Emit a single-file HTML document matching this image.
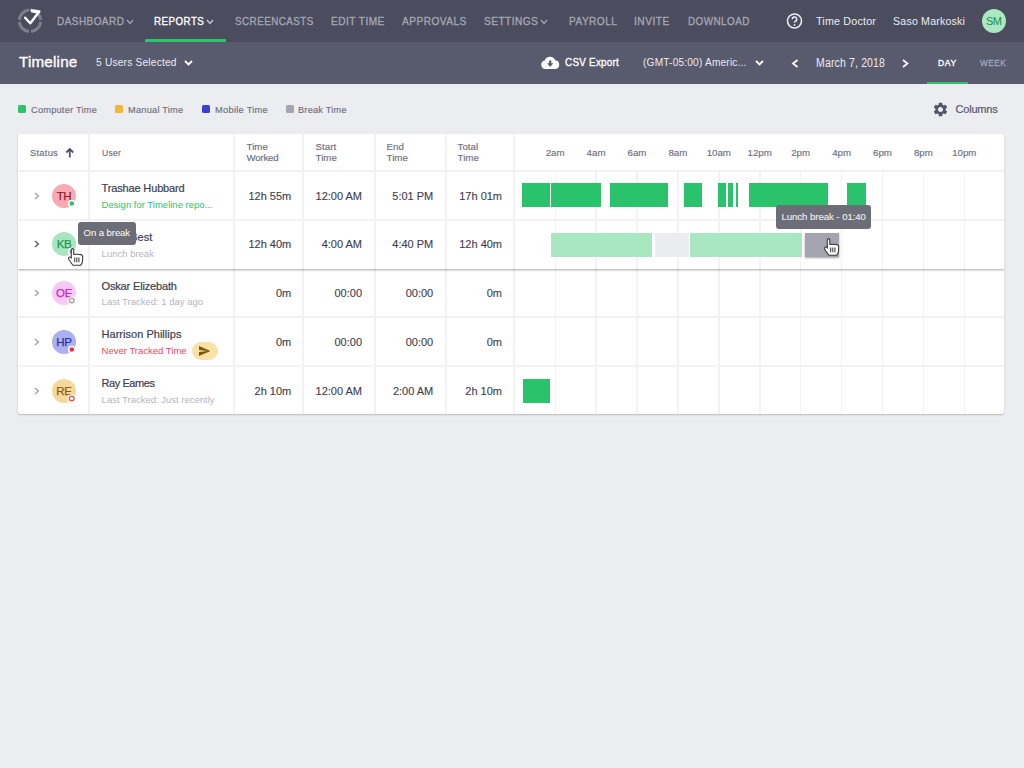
<!DOCTYPE html>
<html><head><meta charset="utf-8"><style>
html,body{margin:0;padding:0;width:1024px;height:768px;overflow:hidden;background:#ecedf1;font-family:"Liberation Sans", sans-serif;position:relative}
.t{position:absolute;white-space:nowrap}
.a{position:absolute}
</style></head><body>
<div class="a" style="left:0;top:0;width:1024px;height:42px;background:#4b4c5e"></div>
<div class="a" style="left:0;top:42px;width:1024px;height:42px;background:#585a6d"></div>
<svg class="a" style="left:0;top:0" width="60" height="42" viewBox="0 0 60 42">
<g fill="none" stroke="#7e7f8d" stroke-width="3">
<path d="M19.3 19.8 A10.7 10.7 0 0 1 29 10.1"/>
<path d="M38.65 14.5 A10.7 10.7 0 0 1 40.7 19.8"/>
<path d="M40.7 21.8 A10.7 10.7 0 0 1 31 31.5"/>
<path d="M29 31.5 A10.7 10.7 0 0 1 19.3 21.8"/>
</g>
<path d="M25.1 17.7 L30.3 23.3 L39.2 11.7" fill="none" stroke="#ffffff" stroke-width="2.4" stroke-linejoin="round" stroke-linecap="round"/>
<path d="M30.7 9.2 L37.8 10.2 L40.3 10.9 L38.4 13.3 L35.2 12.9 L31.1 12.0 Z" fill="#ffffff" stroke="#ffffff" stroke-width="0.5" stroke-linejoin="round"/>
</svg>
<svg class="a" style="left:125px;top:17.5px" width="10" height="7.5"><path d="M2 2 L5.0 5.5 L8 2" fill="none" stroke="#a5a6b3" stroke-width="1.3"/></svg>
<svg class="a" style="left:205px;top:17.5px" width="10" height="7.5"><path d="M2 2 L5.0 5.5 L8 2" fill="none" stroke="#c9cad3" stroke-width="1.3"/></svg>
<svg class="a" style="left:539px;top:17.5px" width="10" height="7.5"><path d="M2 2 L5.0 5.5 L8 2" fill="none" stroke="#a5a6b3" stroke-width="1.3"/></svg>
<div class="a" style="left:145px;top:39px;width:81px;height:3px;background:#2bc46c"></div>
<svg class="a" style="left:785px;top:11px" width="20" height="20" viewBox="0 0 20 20"><circle cx="9.5" cy="10" r="7" fill="none" stroke="#ececf1" stroke-width="1.6"/><path d="M7.3 8.3 A2.2 2.2 0 1 1 10.3 10.3 Q9.5 10.8 9.5 11.8" fill="none" stroke="#ececf1" stroke-width="1.5"/><circle cx="9.5" cy="13.9" r="0.9" fill="#ececf1"/></svg>
<div class="a" style="left:982px;top:9px;width:24px;height:24px;border-radius:50%;background:#a9e8c1"></div>
<svg class="a" style="left:182.5px;top:58.8px" width="11.0" height="7.5"><path d="M2 2 L5.5 5.5 L9.0 2" fill="none" stroke="#ffffff" stroke-width="1.8"/></svg>
<svg class="a" style="left:540px;top:55px" width="22" height="16" viewBox="0 0 22 16"><path d="M5.3 13.9 A4.3 4.3 0 0 1 4.7 5.4 A5.7 5.7 0 0 1 15.3 5.2 A4.4 4.4 0 0 1 15.6 13.9 Z" fill="#ffffff"/><path d="M9.1 5.6 H11.3 V8.2 H13.3 L10.2 12 L7.1 8.2 H9.1 Z" fill="#585a6d"/></svg>
<svg class="a" style="left:753.5px;top:58.8px" width="11.0" height="7.5"><path d="M2 2 L5.5 5.5 L9.0 2" fill="none" stroke="#ffffff" stroke-width="1.8"/></svg>
<svg class="a" style="left:791px;top:57.5px" width="8.5" height="11.0"><path d="M6.5 2 L2 5.5 L6.5 9.0" fill="none" stroke="#ffffff" stroke-width="1.7"/></svg>
<svg class="a" style="left:900.5px;top:57.5px" width="8.5" height="11.0"><path d="M2 2 L6.5 5.5 L2 9.0" fill="none" stroke="#ffffff" stroke-width="1.7"/></svg>
<div class="a" style="left:926.5px;top:82px;width:41.8px;height:2px;background:#2bc46c"></div>
<div class="a" style="left:18px;top:105px;width:8px;height:8px;border-radius:1.5px;background:#2bc46c"></div>
<div class="a" style="left:115px;top:105px;width:8px;height:8px;border-radius:1.5px;background:#f6b635"></div>
<div class="a" style="left:202px;top:105px;width:8px;height:8px;border-radius:1.5px;background:#3b40d2"></div>
<div class="a" style="left:286px;top:105px;width:8px;height:8px;border-radius:1.5px;background:#a4a5af"></div>
<svg class="a" style="left:932px;top:101px" width="17" height="17" viewBox="0 0 24 24"><path fill="#54556a" d="M19.14 12.94c.04-.3.06-.61.06-.94 0-.32-.02-.64-.07-.94l2.03-1.580a.49.49 0 0 0 .12-.61l-1.92-3.32a.488.488 0 0 0-.59-.22l-2.39.96c-.5-.38-1.03-.7-1.62-.94l-.36-2.54a.484.484 0 0 0-.48-.41h-3.84c-.24 0-.43.170-.47.41l-.36 2.54c-.59.24-1.13.57-1.62.94l-2.39-.96c-.22-.08-.47 0-.59.22L2.74 8.87c-.12.21-.08.47.12.61l2.03 1.58c-.05.3-.09.63-.09.94s.02.64.07.94l-2.03 1.58a.49.49 0 0 0-.12.61l1.92 3.32c.12.22.37.29.59.22l2.39-.96c.5.38 1.03.7 1.62.94l.36 2.54c.05.24.24.41.48.41h3.84c.24 0 .44-.17.47-.41l.36-2.54c.59-.24 1.13-.56 1.62-.94l2.39.96c.22.08.47 0 .59-.22l1.92-3.32c.12-.22.07-.47-.12-.61l-2.010-1.58zM12 15.6c-1.98 0-3.6-1.62-3.6-3.6s1.62-3.6 3.6-3.6 3.6 1.62 3.6 3.6-1.62 3.6-3.6 3.6z"/></svg>
<div class="a" style="left:18px;top:134px;width:986px;height:280px;background:#fff;border-radius:3px;box-shadow:0 1px 2px rgba(0,0,0,0.22)"></div>
<div class="a" style="left:18px;top:170px;width:986px;height:2px;background:#f2f2f5"></div>
<div class="a" style="left:18px;top:219.2px;width:986px;height:2px;background:#f2f2f5"></div>
<div class="a" style="left:18px;top:316.3px;width:986px;height:2px;background:#f2f2f5"></div>
<div class="a" style="left:18px;top:365.2px;width:986px;height:2px;background:#f2f2f5"></div>
<div class="a" style="left:88px;top:134px;width:2px;height:280px;background:#f2f2f5"></div>
<div class="a" style="left:233.2px;top:134px;width:2px;height:280px;background:#f2f2f5"></div>
<div class="a" style="left:302.3px;top:134px;width:2px;height:280px;background:#f2f2f5"></div>
<div class="a" style="left:373.5px;top:134px;width:2px;height:280px;background:#f2f2f5"></div>
<div class="a" style="left:444.6px;top:134px;width:2px;height:280px;background:#f2f2f5"></div>
<div class="a" style="left:513.2px;top:134px;width:2px;height:280px;background:#f2f2f5"></div>
<div class="a" style="left:554.52px;top:171px;width:1.4px;height:243px;background:#f2f2f5"></div>
<div class="a" style="left:595.44px;top:171px;width:1.4px;height:243px;background:#f2f2f5"></div>
<div class="a" style="left:636.36px;top:171px;width:1.4px;height:243px;background:#f2f2f5"></div>
<div class="a" style="left:677.28px;top:171px;width:1.4px;height:243px;background:#f2f2f5"></div>
<div class="a" style="left:718.20px;top:171px;width:1.4px;height:243px;background:#f2f2f5"></div>
<div class="a" style="left:759.12px;top:171px;width:1.4px;height:243px;background:#f2f2f5"></div>
<div class="a" style="left:800.04px;top:171px;width:1.4px;height:243px;background:#f2f2f5"></div>
<div class="a" style="left:840.96px;top:171px;width:1.4px;height:243px;background:#f2f2f5"></div>
<div class="a" style="left:881.88px;top:171px;width:1.4px;height:243px;background:#f2f2f5"></div>
<div class="a" style="left:922.80px;top:171px;width:1.4px;height:243px;background:#f2f2f5"></div>
<div class="a" style="left:963.72px;top:171px;width:1.4px;height:243px;background:#f2f2f5"></div>
<div class="a" style="left:18px;top:221px;width:986px;height:48px;background:#fff;box-shadow:0 1px 2px rgba(0,0,0,0.35);clip-path:inset(0 0 -4px 0)"></div>
<div class="a" style="left:88px;top:221px;width:2px;height:48px;background:#f2f2f5"></div>
<div class="a" style="left:233.2px;top:221px;width:2px;height:48px;background:#f2f2f5"></div>
<div class="a" style="left:302.3px;top:221px;width:2px;height:48px;background:#f2f2f5"></div>
<div class="a" style="left:373.5px;top:221px;width:2px;height:48px;background:#f2f2f5"></div>
<div class="a" style="left:444.6px;top:221px;width:2px;height:48px;background:#f2f2f5"></div>
<div class="a" style="left:513.2px;top:221px;width:2px;height:48px;background:#f2f2f5"></div>
<div class="a" style="left:554.52px;top:221px;width:1.4px;height:48px;background:#f2f2f5"></div>
<div class="a" style="left:595.44px;top:221px;width:1.4px;height:48px;background:#f2f2f5"></div>
<div class="a" style="left:636.36px;top:221px;width:1.4px;height:48px;background:#f2f2f5"></div>
<div class="a" style="left:677.28px;top:221px;width:1.4px;height:48px;background:#f2f2f5"></div>
<div class="a" style="left:718.20px;top:221px;width:1.4px;height:48px;background:#f2f2f5"></div>
<div class="a" style="left:759.12px;top:221px;width:1.4px;height:48px;background:#f2f2f5"></div>
<div class="a" style="left:800.04px;top:221px;width:1.4px;height:48px;background:#f2f2f5"></div>
<div class="a" style="left:840.96px;top:221px;width:1.4px;height:48px;background:#f2f2f5"></div>
<div class="a" style="left:881.88px;top:221px;width:1.4px;height:48px;background:#f2f2f5"></div>
<div class="a" style="left:922.80px;top:221px;width:1.4px;height:48px;background:#f2f2f5"></div>
<div class="a" style="left:963.72px;top:221px;width:1.4px;height:48px;background:#f2f2f5"></div>
<svg class="a" style="left:64px;top:147px" width="12" height="12" viewBox="0 0 12 12"><path d="M5.8 2 V10.5 M2.3 5.5 L5.8 2 L9.3 5.5" fill="none" stroke="#50516a" stroke-width="1.8"/></svg>
<svg class="a" style="left:32.8px;top:190.7px" width="7.400000000000006" height="10.0"><path d="M2 2 L5.400000000000006 5.0 L2 8.0" fill="none" stroke="#a4a5b1" stroke-width="1.4"/></svg>
<div class="a" style="left:52px;top:183.70px;width:24px;height:24px;border-radius:50%;background:#f8aab4;color:#8e1c30;font-size:11.5px;line-height:24px;text-align:center;letter-spacing:-0.3px;-webkit-text-stroke:0.25px #8e1c30">TH</div>
<svg class="a" style="left:32.8px;top:239.4px" width="7.400000000000006" height="10.0"><path d="M2 2 L5.400000000000006 5.0 L2 8.0" fill="none" stroke="#5a5b70" stroke-width="1.4"/></svg>
<div class="a" style="left:52px;top:232.40px;width:24px;height:24px;border-radius:50%;background:#a9e6bf;color:#22964f;font-size:11.5px;line-height:24px;text-align:center;letter-spacing:-0.3px;-webkit-text-stroke:0.25px #22964f">KB</div>
<svg class="a" style="left:32.8px;top:288.0px" width="7.400000000000006" height="10.0"><path d="M2 2 L5.400000000000006 5.0 L2 8.0" fill="none" stroke="#a4a5b1" stroke-width="1.4"/></svg>
<div class="a" style="left:52px;top:281.00px;width:24px;height:24px;border-radius:50%;background:#f9c9f6;color:#c427c4;font-size:11.5px;line-height:24px;text-align:center;letter-spacing:-0.3px;-webkit-text-stroke:0.25px #c427c4">OE</div>
<svg class="a" style="left:32.8px;top:336.5px" width="7.400000000000006" height="10.0"><path d="M2 2 L5.400000000000006 5.0 L2 8.0" fill="none" stroke="#a4a5b1" stroke-width="1.4"/></svg>
<div class="a" style="left:52px;top:329.50px;width:24px;height:24px;border-radius:50%;background:#aab0f0;color:#2b309e;font-size:11.5px;line-height:24px;text-align:center;letter-spacing:-0.3px;-webkit-text-stroke:0.25px #2b309e">HP</div>
<svg class="a" style="left:32.8px;top:385.5px" width="7.400000000000006" height="10.0"><path d="M2 2 L5.400000000000006 5.0 L2 8.0" fill="none" stroke="#a4a5b1" stroke-width="1.4"/></svg>
<div class="a" style="left:52px;top:378.50px;width:24px;height:24px;border-radius:50%;background:#f6d89c;color:#8c5c12;font-size:11.5px;line-height:24px;text-align:center;letter-spacing:-0.3px;-webkit-text-stroke:0.25px #8c5c12">RE</div>
<svg class="a" style="left:62px;top:193.70px" width="20" height="20" viewBox="0 0 20 20"><circle cx="9.8" cy="9.5" r="3.1" fill="#2cc46c" stroke="#fff" stroke-width="1.5"/></svg>
<svg class="a" style="left:62px;top:242.40px" width="20" height="20" viewBox="0 0 20 20"><circle cx="9.8" cy="9.5" r="3.1" fill="#9a9bab" stroke="#fff" stroke-width="1.5"/></svg>
<svg class="a" style="left:62px;top:291.00px" width="20" height="20" viewBox="0 0 20 20"><circle cx="9.7" cy="9.45" r="4.3" fill="#fff"/><circle cx="9.7" cy="9.45" r="2.35" fill="#fff" stroke="#a3a4ae" stroke-width="1.4"/></svg>
<svg class="a" style="left:62px;top:339.50px" width="20" height="20" viewBox="0 0 20 20"><circle cx="9.8" cy="9.5" r="3.1" fill="#ec2f45" stroke="#fff" stroke-width="1.5"/></svg>
<svg class="a" style="left:62px;top:388.50px" width="20" height="20" viewBox="0 0 20 20"><circle cx="9.7" cy="9.45" r="4.3" fill="#fff"/><circle cx="9.7" cy="9.45" r="2.35" fill="#fff" stroke="#e9553f" stroke-width="1.4"/></svg>
<div class="a" style="left:192.4px;top:341.8px;width:25.4px;height:17.9px;border-radius:9px;background:#fae2a6"></div>
<svg class="a" style="left:199px;top:345.8px" width="11.4" height="10" viewBox="2 3 21 18" preserveAspectRatio="none"><path d="M2.01 21L23 12 2.01 3 2 10l15 2-15 2z" fill="#7d5c05"/></svg>
<div class="a" style="left:522.00px;top:183px;width:27.50px;height:24px;background:#2ac26b;"></div>
<div class="a" style="left:550.50px;top:183px;width:50.00px;height:24px;background:#2ac26b;"></div>
<div class="a" style="left:609.50px;top:183px;width:58.50px;height:24px;background:#2ac26b;"></div>
<div class="a" style="left:683.50px;top:183px;width:18.50px;height:24px;background:#2ac26b;"></div>
<div class="a" style="left:718.00px;top:183px;width:7.50px;height:24px;background:#2ac26b;"></div>
<div class="a" style="left:727.50px;top:183px;width:5.50px;height:24px;background:#2ac26b;"></div>
<div class="a" style="left:735.50px;top:183px;width:2.50px;height:24px;background:#2ac26b;"></div>
<div class="a" style="left:748.50px;top:183px;width:79.50px;height:24px;background:#2ac26b;"></div>
<div class="a" style="left:847.00px;top:183px;width:19.00px;height:24px;background:#2ac26b;"></div>
<div class="a" style="left:551.00px;top:233px;width:101.00px;height:24px;background:#a9e6c2;"></div>
<div class="a" style="left:654.50px;top:233px;width:34.50px;height:24px;background:#ebecf0;"></div>
<div class="a" style="left:690.00px;top:233px;width:112.00px;height:24px;background:#a9e6c2;"></div>
<div class="a" style="left:804.60px;top:233px;width:34.70px;height:24px;background:#a3a4af;box-shadow:0 1px 2px rgba(0,0,0,0.35)"></div>
<div class="a" style="left:523.00px;top:379px;width:27.00px;height:24px;background:#2ac26b;"></div>
<div class="t" style="left:56.56px;top:15.69px;font-size:11px;line-height:11px;font-weight:normal;-webkit-text-stroke:0.35px #a5a6b3;color:#a5a6b3;letter-spacing:0.500px;transform:scaleX(0.9065);transform-origin:0.44px 0">DASHBOARD</div>
<div class="t" style="left:154.06px;top:15.69px;font-size:11px;line-height:11px;font-weight:normal;-webkit-text-stroke:0.35px #ffffff;color:#ffffff;letter-spacing:0.500px;transform:scaleX(0.8892);transform-origin:0.44px 0">REPORTS</div>
<div class="t" style="left:234.56px;top:15.69px;font-size:11px;line-height:11px;font-weight:normal;-webkit-text-stroke:0.35px #a5a6b3;color:#a5a6b3;letter-spacing:0.500px;transform:scaleX(0.8944);transform-origin:0.44px 0">SCREENCASTS</div>
<div class="t" style="left:330.56px;top:15.69px;font-size:11px;line-height:11px;font-weight:normal;-webkit-text-stroke:0.35px #a5a6b3;color:#a5a6b3;letter-spacing:0.500px;transform:scaleX(0.9191);transform-origin:0.44px 0">EDIT TIME</div>
<div class="t" style="left:401.56px;top:15.69px;font-size:11px;line-height:11px;font-weight:normal;-webkit-text-stroke:0.35px #a5a6b3;color:#a5a6b3;letter-spacing:0.500px;transform:scaleX(0.9210);transform-origin:0.44px 0">APPROVALS</div>
<div class="t" style="left:483.56px;top:15.69px;font-size:11px;line-height:11px;font-weight:normal;-webkit-text-stroke:0.35px #a5a6b3;color:#a5a6b3;letter-spacing:0.500px;transform:scaleX(0.9196);transform-origin:0.44px 0">SETTINGS</div>
<div class="t" style="left:568.56px;top:15.69px;font-size:11px;line-height:11px;font-weight:normal;-webkit-text-stroke:0.35px #a5a6b3;color:#a5a6b3;letter-spacing:0.500px;transform:scaleX(0.9172);transform-origin:0.44px 0">PAYROLL</div>
<div class="t" style="left:634.06px;top:15.69px;font-size:11px;line-height:11px;font-weight:normal;-webkit-text-stroke:0.35px #a5a6b3;color:#a5a6b3;letter-spacing:0.500px;transform:scaleX(0.9306);transform-origin:0.44px 0">INVITE</div>
<div class="t" style="left:687.56px;top:15.69px;font-size:11px;line-height:11px;font-weight:normal;-webkit-text-stroke:0.35px #a5a6b3;color:#a5a6b3;letter-spacing:0.500px;transform:scaleX(0.8976);transform-origin:0.44px 0">DOWNLOAD</div>
<div class="t" style="left:815.54px;top:16.07px;font-size:11.5px;line-height:11.5px;font-weight:normal;color:#ececf1;letter-spacing:0.200px;transform:scaleX(0.9323);transform-origin:0.46px 0">Time Doctor</div>
<div class="t" style="left:892.54px;top:16.07px;font-size:11.5px;line-height:11.5px;font-weight:normal;color:#ececf1;letter-spacing:0.200px;transform:scaleX(0.9233);transform-origin:0.46px 0">Saso Markoski</div>
<div class="t" style="left:986.06px;top:15.69px;font-size:11px;line-height:11px;font-weight:normal;color:#1f8c4c;letter-spacing:-0.620px">SM</div>
<div class="t" style="left:18.98px;top:54.38px;font-size:15.5px;line-height:15.5px;font-weight:normal;-webkit-text-stroke:0.35px #ffffff;color:#ffffff;letter-spacing:0.200px;transform:scaleX(0.9801);transform-origin:0.62px 0">Timeline</div>
<div class="t" style="left:95.54px;top:57.27px;font-size:11.5px;line-height:11.5px;font-weight:normal;color:#ececf1;letter-spacing:0.200px;transform:scaleX(0.8878);transform-origin:0.46px 0">5 Users Selected</div>
<div class="t" style="left:564.94px;top:57.27px;font-size:11.5px;line-height:11.5px;font-weight:normal;-webkit-text-stroke:0.35px #ffffff;color:#ffffff;letter-spacing:0.300px;transform:scaleX(0.8568);transform-origin:0.46px 0">CSV Export</div>
<div class="t" style="left:643.04px;top:57.27px;font-size:11.5px;line-height:11.5px;font-weight:normal;color:#ececf1;letter-spacing:0.200px;transform:scaleX(0.8822);transform-origin:0.46px 0">(GMT-05:00) Americ...</div>
<div class="t" style="left:815.72px;top:56.64px;font-size:12px;line-height:12px;font-weight:normal;color:#ececf1;letter-spacing:0.200px;transform:scaleX(0.8700);transform-origin:0.48px 0">March 7, 2018</div>
<div class="t" style="left:938.03px;top:58.51px;font-size:9.2px;line-height:9.2px;font-weight:normal;-webkit-text-stroke:0.35px #ffffff;color:#ffffff;letter-spacing:0.600px;transform:scaleX(0.9313);transform-origin:0.37px 0">DAY</div>
<div class="t" style="left:980.23px;top:58.51px;font-size:9.2px;line-height:9.2px;font-weight:normal;-webkit-text-stroke:0.35px #a5a6b3;color:#a5a6b3;letter-spacing:0.600px;transform:scaleX(0.8888);transform-origin:0.37px 0">WEEK</div>
<div class="t" style="left:31.22px;top:104.77px;font-size:9.6px;line-height:9.6px;font-weight:normal;-webkit-text-stroke:0.15px #6d6e7f;color:#6d6e7f;letter-spacing:0.250px;transform:scaleX(0.9586);transform-origin:0.38px 0">Computer Time</div>
<div class="t" style="left:128.22px;top:104.77px;font-size:9.6px;line-height:9.6px;font-weight:normal;-webkit-text-stroke:0.15px #6d6e7f;color:#6d6e7f;letter-spacing:0.250px;transform:scaleX(0.9602);transform-origin:0.38px 0">Manual Time</div>
<div class="t" style="left:214.62px;top:104.77px;font-size:9.6px;line-height:9.6px;font-weight:normal;-webkit-text-stroke:0.15px #6d6e7f;color:#6d6e7f;letter-spacing:0.250px;transform:scaleX(0.9729);transform-origin:0.38px 0">Mobile Time</div>
<div class="t" style="left:298.42px;top:104.77px;font-size:9.6px;line-height:9.6px;font-weight:normal;-webkit-text-stroke:0.15px #6d6e7f;color:#6d6e7f;letter-spacing:0.250px;transform:scaleX(0.9557);transform-origin:0.38px 0">Break Time</div>
<div class="t" style="left:955.56px;top:103.99px;font-size:11px;line-height:11px;font-weight:normal;-webkit-text-stroke:0.2px #56576c;color:#56576c;letter-spacing:-0.204px">Columns</div>
<div class="t" style="left:29.62px;top:148.36px;font-size:9.5px;line-height:9.5px;font-weight:normal;-webkit-text-stroke:0.15px #6d6e7f;color:#6d6e7f;letter-spacing:0.250px;transform:scaleX(0.9844);transform-origin:0.38px 0">Status</div>
<div class="t" style="left:101.62px;top:148.36px;font-size:9.5px;line-height:9.5px;font-weight:normal;-webkit-text-stroke:0.15px #6d6e7f;color:#6d6e7f;letter-spacing:0.250px;transform:scaleX(0.9076);transform-origin:0.38px 0">User</div>
<div class="t" style="left:246.61px;top:141.69px;font-size:9.7px;line-height:9.7px;font-weight:normal;-webkit-text-stroke:0.15px #6d6e7f;color:#6d6e7f;letter-spacing:0.000px">Time</div>
<div class="t" style="left:246.61px;top:153.29px;font-size:9.7px;line-height:9.7px;font-weight:normal;-webkit-text-stroke:0.15px #6d6e7f;color:#6d6e7f;letter-spacing:-0.245px">Worked</div>
<div class="t" style="left:315.61px;top:141.69px;font-size:9.7px;line-height:9.7px;font-weight:normal;-webkit-text-stroke:0.15px #6d6e7f;color:#6d6e7f;letter-spacing:0.000px">Start</div>
<div class="t" style="left:315.61px;top:153.29px;font-size:9.7px;line-height:9.7px;font-weight:normal;-webkit-text-stroke:0.15px #6d6e7f;color:#6d6e7f;letter-spacing:0.000px">Time</div>
<div class="t" style="left:386.61px;top:141.69px;font-size:9.7px;line-height:9.7px;font-weight:normal;-webkit-text-stroke:0.15px #6d6e7f;color:#6d6e7f;letter-spacing:0.000px">End</div>
<div class="t" style="left:386.61px;top:153.29px;font-size:9.7px;line-height:9.7px;font-weight:normal;-webkit-text-stroke:0.15px #6d6e7f;color:#6d6e7f;letter-spacing:0.000px">Time</div>
<div class="t" style="left:457.61px;top:141.69px;font-size:9.7px;line-height:9.7px;font-weight:normal;-webkit-text-stroke:0.15px #6d6e7f;color:#6d6e7f;letter-spacing:0.000px">Total</div>
<div class="t" style="left:457.61px;top:153.29px;font-size:9.7px;line-height:9.7px;font-weight:normal;-webkit-text-stroke:0.15px #6d6e7f;color:#6d6e7f;letter-spacing:0.000px">Time</div>
<div class="t" style="left:545.69px;top:147.99px;font-size:9.7px;line-height:9.7px;font-weight:normal;-webkit-text-stroke:0.15px #6d6e7f;color:#6d6e7f;letter-spacing:0.000px">2am</div>
<div class="t" style="left:586.61px;top:147.99px;font-size:9.7px;line-height:9.7px;font-weight:normal;-webkit-text-stroke:0.15px #6d6e7f;color:#6d6e7f;letter-spacing:0.000px">4am</div>
<div class="t" style="left:627.53px;top:147.99px;font-size:9.7px;line-height:9.7px;font-weight:normal;-webkit-text-stroke:0.15px #6d6e7f;color:#6d6e7f;letter-spacing:0.000px">6am</div>
<div class="t" style="left:668.45px;top:147.99px;font-size:9.7px;line-height:9.7px;font-weight:normal;-webkit-text-stroke:0.15px #6d6e7f;color:#6d6e7f;letter-spacing:0.000px">8am</div>
<div class="t" style="left:706.68px;top:147.99px;font-size:9.7px;line-height:9.7px;font-weight:normal;-webkit-text-stroke:0.15px #6d6e7f;color:#6d6e7f;letter-spacing:0.000px">10am</div>
<div class="t" style="left:747.60px;top:147.99px;font-size:9.7px;line-height:9.7px;font-weight:normal;-webkit-text-stroke:0.15px #6d6e7f;color:#6d6e7f;letter-spacing:0.000px">12pm</div>
<div class="t" style="left:791.21px;top:147.99px;font-size:9.7px;line-height:9.7px;font-weight:normal;-webkit-text-stroke:0.15px #6d6e7f;color:#6d6e7f;letter-spacing:0.000px">2pm</div>
<div class="t" style="left:832.13px;top:147.99px;font-size:9.7px;line-height:9.7px;font-weight:normal;-webkit-text-stroke:0.15px #6d6e7f;color:#6d6e7f;letter-spacing:0.000px">4pm</div>
<div class="t" style="left:873.05px;top:147.99px;font-size:9.7px;line-height:9.7px;font-weight:normal;-webkit-text-stroke:0.15px #6d6e7f;color:#6d6e7f;letter-spacing:0.000px">6pm</div>
<div class="t" style="left:913.97px;top:147.99px;font-size:9.7px;line-height:9.7px;font-weight:normal;-webkit-text-stroke:0.15px #6d6e7f;color:#6d6e7f;letter-spacing:0.000px">8pm</div>
<div class="t" style="left:952.20px;top:147.99px;font-size:9.7px;line-height:9.7px;font-weight:normal;-webkit-text-stroke:0.15px #6d6e7f;color:#6d6e7f;letter-spacing:0.000px">10pm</div>
<div class="t" style="left:101.56px;top:183.29px;font-size:11px;line-height:11px;font-weight:normal;-webkit-text-stroke:0.2px #3d3e4f;color:#3d3e4f;letter-spacing:-0.148px">Trashae Hubbard</div>
<div class="t" style="left:101.62px;top:199.86px;font-size:9.5px;line-height:9.5px;font-weight:normal;color:#2fc46e;letter-spacing:0.000px">Design for Timeline repo...</div>
<div class="t" style="left:248.43px;top:190.79px;font-size:11px;line-height:11px;font-weight:normal;-webkit-text-stroke:0.12px #3d3e4f;color:#3d3e4f;letter-spacing:0.000px">12h 55m</div>
<div class="t" style="left:315.56px;top:190.79px;font-size:11px;line-height:11px;font-weight:normal;-webkit-text-stroke:0.12px #3d3e4f;color:#3d3e4f;letter-spacing:0.000px">12:00 AM</div>
<div class="t" style="left:392.27px;top:190.79px;font-size:11px;line-height:11px;font-weight:normal;-webkit-text-stroke:0.12px #3d3e4f;color:#3d3e4f;letter-spacing:0.000px">5:01 PM</div>
<div class="t" style="left:459.23px;top:190.79px;font-size:11px;line-height:11px;font-weight:normal;-webkit-text-stroke:0.12px #3d3e4f;color:#3d3e4f;letter-spacing:0.000px">17h 01m</div>
<div class="t" style="left:101.56px;top:231.99px;font-size:11px;line-height:11px;font-weight:normal;-webkit-text-stroke:0.2px #3d3e4f;color:#3d3e4f;letter-spacing:0.000px">Kiara Best</div>
<div class="t" style="left:101.62px;top:248.56px;font-size:9.5px;line-height:9.5px;font-weight:normal;color:#b4b5c1;letter-spacing:0.000px">Lunch break</div>
<div class="t" style="left:248.43px;top:239.49px;font-size:11px;line-height:11px;font-weight:normal;-webkit-text-stroke:0.12px #3d3e4f;color:#3d3e4f;letter-spacing:0.000px">12h 40m</div>
<div class="t" style="left:321.68px;top:239.49px;font-size:11px;line-height:11px;font-weight:normal;-webkit-text-stroke:0.12px #3d3e4f;color:#3d3e4f;letter-spacing:0.000px">4:00 AM</div>
<div class="t" style="left:392.27px;top:239.49px;font-size:11px;line-height:11px;font-weight:normal;-webkit-text-stroke:0.12px #3d3e4f;color:#3d3e4f;letter-spacing:0.000px">4:40 PM</div>
<div class="t" style="left:459.23px;top:239.49px;font-size:11px;line-height:11px;font-weight:normal;-webkit-text-stroke:0.12px #3d3e4f;color:#3d3e4f;letter-spacing:0.000px">12h 40m</div>
<div class="t" style="left:101.56px;top:280.59px;font-size:11px;line-height:11px;font-weight:normal;-webkit-text-stroke:0.2px #3d3e4f;color:#3d3e4f;letter-spacing:-0.163px">Oskar Elizebath</div>
<div class="t" style="left:101.62px;top:297.16px;font-size:9.5px;line-height:9.5px;font-weight:normal;color:#b4b5c1;letter-spacing:0.000px">Last Tracked: 1 day ago</div>
<div class="t" style="left:275.96px;top:288.09px;font-size:11px;line-height:11px;font-weight:normal;-webkit-text-stroke:0.12px #3d3e4f;color:#3d3e4f;letter-spacing:0.000px">0m</div>
<div class="t" style="left:334.51px;top:288.09px;font-size:11px;line-height:11px;font-weight:normal;-webkit-text-stroke:0.12px #3d3e4f;color:#3d3e4f;letter-spacing:0.000px">00:00</div>
<div class="t" style="left:405.71px;top:288.09px;font-size:11px;line-height:11px;font-weight:normal;-webkit-text-stroke:0.12px #3d3e4f;color:#3d3e4f;letter-spacing:0.000px">00:00</div>
<div class="t" style="left:486.76px;top:288.09px;font-size:11px;line-height:11px;font-weight:normal;-webkit-text-stroke:0.12px #3d3e4f;color:#3d3e4f;letter-spacing:0.000px">0m</div>
<div class="t" style="left:101.56px;top:329.09px;font-size:11px;line-height:11px;font-weight:normal;-webkit-text-stroke:0.2px #3d3e4f;color:#3d3e4f;letter-spacing:0.025px">Harrison Phillips</div>
<div class="t" style="left:101.62px;top:345.66px;font-size:9.5px;line-height:9.5px;font-weight:normal;color:#ec4a5c;letter-spacing:0.000px">Never Tracked Time</div>
<div class="t" style="left:275.96px;top:336.59px;font-size:11px;line-height:11px;font-weight:normal;-webkit-text-stroke:0.12px #3d3e4f;color:#3d3e4f;letter-spacing:0.000px">0m</div>
<div class="t" style="left:334.51px;top:336.59px;font-size:11px;line-height:11px;font-weight:normal;-webkit-text-stroke:0.12px #3d3e4f;color:#3d3e4f;letter-spacing:0.000px">00:00</div>
<div class="t" style="left:405.71px;top:336.59px;font-size:11px;line-height:11px;font-weight:normal;-webkit-text-stroke:0.12px #3d3e4f;color:#3d3e4f;letter-spacing:0.000px">00:00</div>
<div class="t" style="left:486.76px;top:336.59px;font-size:11px;line-height:11px;font-weight:normal;-webkit-text-stroke:0.12px #3d3e4f;color:#3d3e4f;letter-spacing:0.000px">0m</div>
<div class="t" style="left:101.56px;top:378.09px;font-size:11px;line-height:11px;font-weight:normal;-webkit-text-stroke:0.2px #3d3e4f;color:#3d3e4f;letter-spacing:-0.435px">Ray Eames</div>
<div class="t" style="left:101.62px;top:394.66px;font-size:9.5px;line-height:9.5px;font-weight:normal;color:#b4b5c1;letter-spacing:0.000px">Last Tracked: Just recently</div>
<div class="t" style="left:254.54px;top:385.59px;font-size:11px;line-height:11px;font-weight:normal;-webkit-text-stroke:0.12px #3d3e4f;color:#3d3e4f;letter-spacing:0.000px">2h 10m</div>
<div class="t" style="left:315.56px;top:385.59px;font-size:11px;line-height:11px;font-weight:normal;-webkit-text-stroke:0.12px #3d3e4f;color:#3d3e4f;letter-spacing:0.000px">12:00 AM</div>
<div class="t" style="left:392.88px;top:385.59px;font-size:11px;line-height:11px;font-weight:normal;-webkit-text-stroke:0.12px #3d3e4f;color:#3d3e4f;letter-spacing:0.000px">2:00 AM</div>
<div class="t" style="left:465.34px;top:385.59px;font-size:11px;line-height:11px;font-weight:normal;-webkit-text-stroke:0.12px #3d3e4f;color:#3d3e4f;letter-spacing:0.000px">2h 10m</div>
<div class="a" style="left:78px;top:221.5px;width:57.5px;height:23.5px;border-radius:3px;background:#6c6d77"></div>
<div class="t" style="left:83.6px;top:228.3px;font-size:9.6px;line-height:9.6px;color:#fff;letter-spacing:-0.1px">On a break</div>
<div class="a" style="left:776px;top:205px;width:95px;height:23.5px;border-radius:3px;background:#6c6d77"></div>
<div class="t" style="left:781.5px;top:211.8px;font-size:9.6px;line-height:9.6px;color:#ebebef;letter-spacing:-0.05px;-webkit-text-stroke:0.15px #ebebef">Lunch break - 01:40</div>
<svg class="a" style="left:823px;top:237px" width="17" height="20" viewBox="0 0 17 20"><path d="M4.3 2.6 Q5.55 0.6 6.8 2.6 L6.8 7.4 Q10.5 6.9 14 7.6 Q15.8 8 15.7 10 L15.5 14.3 Q15.1 16.8 13.6 18.3 L6.2 18.3 Q4.6 16.9 3.6 15 L1.7 12.3 Q1.1 10.6 2.6 10.1 Q3.8 9.8 4.3 11.2 Z" fill="#fff" stroke="#3a3a3f" stroke-width="1.1" stroke-linejoin="round"/><path d="M7.7 10.6 V15.2 M9.8 10.6 V15.2 M11.9 10.6 V15.2" stroke="#4a4a50" stroke-width="1.15"/></svg>
<svg class="a" style="left:67.4px;top:246.8px" width="17" height="20" viewBox="0 0 17 20"><path d="M4.3 2.6 Q5.55 0.6 6.8 2.6 L6.8 7.4 Q10.5 6.9 14 7.6 Q15.8 8 15.7 10 L15.5 14.3 Q15.1 16.8 13.6 18.3 L6.2 18.3 Q4.6 16.9 3.6 15 L1.7 12.3 Q1.1 10.6 2.6 10.1 Q3.8 9.8 4.3 11.2 Z" fill="#fff" stroke="#3a3a3f" stroke-width="1.1" stroke-linejoin="round"/><path d="M7.7 10.6 V15.2 M9.8 10.6 V15.2 M11.9 10.6 V15.2" stroke="#4a4a50" stroke-width="1.15"/></svg>
</body></html>
